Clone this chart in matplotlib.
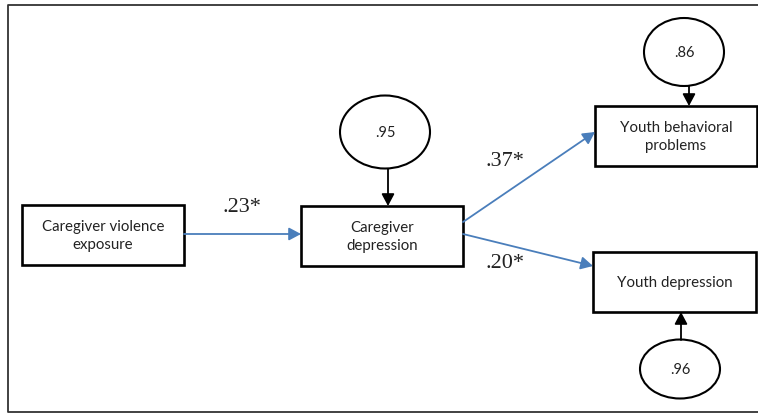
import matplotlib.pyplot as plt
from matplotlib.patches import Rectangle, Ellipse, FancyArrowPatch

# Path model: observed variables, residual variances, standardized paths
variables = ["Caregiver violence\nexposure", "Caregiver\ndepression",
             "Youth behavioral\nproblems", "Youth depression"]
residuals = [".95", ".86", ".96"]
residualTargets = [1, 2, 3]
paths = [(0, 1), (1, 2), (1, 3)]
pathLabels = [".23*", ".37*", ".20*"]

# Layout in pixel coordinates (x0, y0, x1, y1)
boxes = [(22, 206, 184, 266), (301, 207, 463, 267),
         (595, 107, 757, 167), (593, 253, 756, 313)]
ellipses = [(385, 133, 90, 73), (684, 53, 80, 68), (680, 370, 80, 59)]
pathEnds = [((184, 235), (301, 235)), ((463, 223), (595, 133)),
            ((463, 235), (593, 267))]
residArrows = [((388, 170), (388, 207)), ((689, 87), (689, 107)),
               ((681, 341), (681, 313))]
labelPos = [(242, 208), (505, 162), (505, 264)]

blue = '#4a7ebb'
sansFont = ['Lato', 'DejaVu Sans']
serifFont = ['Liberation Serif', 'DejaVu Serif']

fig = plt.figure(figsize=(7.58, 4.14), dpi=100)
ax = fig.add_axes([0, 0, 1, 1])
ax.set_xlim(0, 758)
ax.set_ylim(414, 0)
ax.axis('off')

# Outer frame (open on the right)
ax.plot([758, 8, 8, 758], [6, 6, 413, 413], color='#333333', lw=1.3)

for (x0, y0, x1, y1), name in zip(boxes, variables):
    ax.add_patch(Rectangle((x0, y0), x1 - x0, y1 - y0, fill=False,
                           ec='black', lw=1.9))
    ax.text((x0 + x1) / 2, (y0 + y1) / 2, name, ha='center', va='center',
            fontsize=10.8, family=sansFont, linespacing=1.4, color='#222222')

for (cx, cy, w, h), val in zip(ellipses, residuals):
    ax.add_patch(Ellipse((cx, cy), w, h, fill=False, ec='black', lw=1.5))
    ax.text(cx, cy, val, ha='center', va='center', fontsize=10.5,
            family=sansFont, color='#222222')

def arrow(start, end, color):
    ax.add_patch(FancyArrowPatch(start, end, color=color, lw=1.3,
                                 arrowstyle='-|>,head_length=0.6,head_width=0.32',
                                 mutation_scale=12, shrinkA=0, shrinkB=0))

for (start, end) in pathEnds:
    arrow(start, end, blue)

for (start, end) in residArrows:
    arrow(start, end, 'black')

for (x, y), lab in zip(labelPos, pathLabels):
    ax.text(x, y, lab, ha='center', va='center', fontsize=16,
            family=serifFont, color='#222222')

fig.savefig('out.png', dpi=100)
